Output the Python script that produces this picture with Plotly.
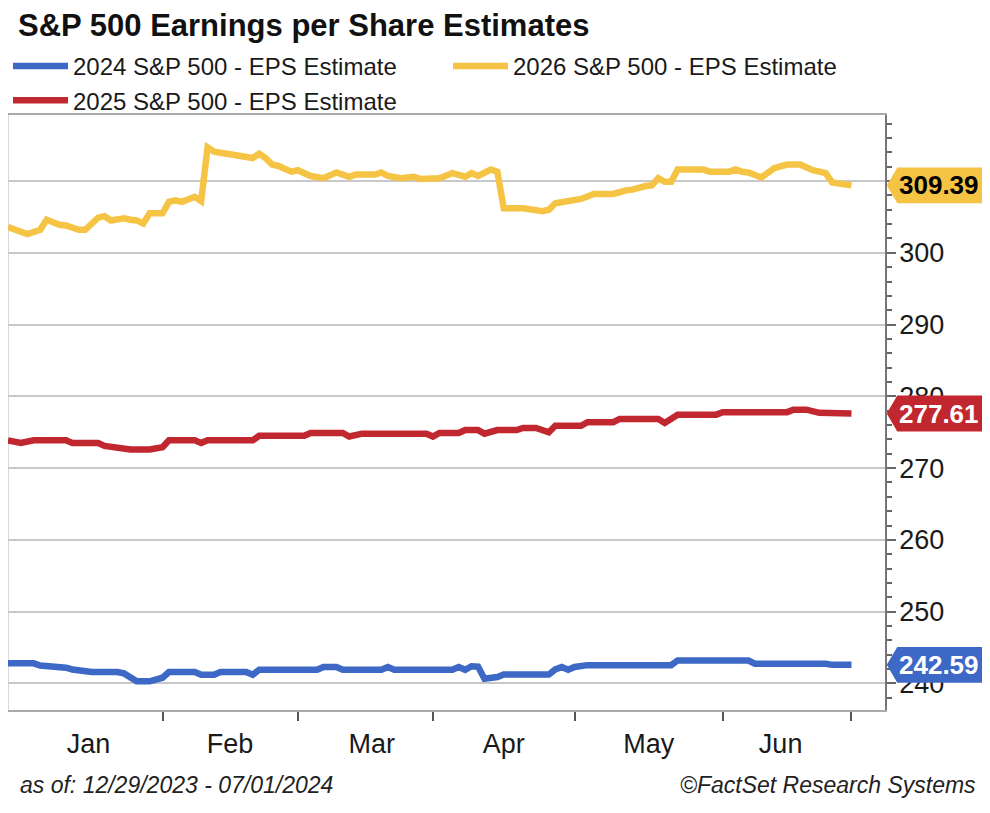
import plotly.graph_objects as go

# 2026 S&P 500 EPS estimate (yellow)
dates_2026 = ["2023-12-29", "2024-01-03", "2024-01-05", "2024-01-08", "2024-01-10", "2024-01-11",
              "2024-01-15", "2024-01-16", "2024-01-18", "2024-01-19", "2024-01-22", "2024-01-24",
              "2024-01-25", "2024-01-26", "2024-01-29", "2024-01-30", "2024-02-01", "2024-02-02",
              "2024-02-05", "2024-02-06", "2024-02-08", "2024-02-09", "2024-02-12", "2024-02-13",
              "2024-02-15", "2024-02-20", "2024-02-21", "2024-02-22", "2024-02-23", "2024-02-26",
              "2024-02-27", "2024-02-29", "2024-03-01", "2024-03-05", "2024-03-07", "2024-03-11",
              "2024-03-13", "2024-03-14", "2024-03-19", "2024-03-20", "2024-03-21", "2024-03-25",
              "2024-03-27", "2024-03-28", "2024-04-02", "2024-04-04", "2024-04-05", "2024-04-08",
              "2024-04-09", "2024-04-10", "2024-04-12", "2024-04-15", "2024-04-16", "2024-04-19",
              "2024-04-24", "2024-04-25", "2024-04-26", "2024-04-30", "2024-05-01", "2024-05-02",
              "2024-05-06", "2024-05-09", "2024-05-13", "2024-05-14", "2024-05-16", "2024-05-17",
              "2024-05-20", "2024-05-21", "2024-05-22", "2024-05-23", "2024-05-29", "2024-05-30",
              "2024-06-04", "2024-06-05", "2024-06-06", "2024-06-07", "2024-06-11", "2024-06-13",
              "2024-06-17", "2024-06-19", "2024-06-21", "2024-06-25", "2024-06-26", "2024-06-28",
              "2024-07-01"]
eps_2026 = [303.6, 302.6, 303.2, 304.6, 303.9, 303.8,
            303.2, 303.2, 304.9, 305.1, 304.5, 304.8,
            304.6, 304.5, 304.1, 305.5, 305.5, 307.1,
            307.3, 307.1, 307.8, 307.2, 314.7, 314.1,
            313.8, 313.5, 313.2, 313.8, 313.2, 312.3,
            312.1, 311.3, 311.5, 310.7, 310.4, 311.2,
            310.6, 310.9, 310.9, 311.2, 310.7, 310.4,
            310.6, 310.3, 310.4, 311.1, 310.9, 310.6,
            311.1, 310.7, 311.6, 311.3, 306.2, 306.2,
            305.8, 306.0, 306.9, 307.2, 307.5, 307.5,
            308.2, 308.2, 308.7, 308.8, 309.3, 309.4,
            310.4, 309.9, 309.9, 311.6, 311.6, 311.3,
            311.3, 311.6, 311.3, 311.2, 310.5, 311.8,
            312.3, 312.3, 311.5, 311.1, 309.8, 309.4,
            309.39]

# 2025 S&P 500 EPS estimate (red)
dates_2025 = ["2023-12-29", "2024-01-02", "2024-01-04", "2024-01-11", "2024-01-12", "2024-01-18",
              "2024-01-19", "2024-01-22", "2024-01-24", "2024-01-25", "2024-01-30", "2024-02-01",
              "2024-02-02", "2024-02-08", "2024-02-09", "2024-02-12", "2024-02-21", "2024-02-22",
              "2024-03-04", "2024-03-05", "2024-03-12", "2024-03-13", "2024-03-15", "2024-03-29",
              "2024-04-01", "2024-04-02", "2024-04-05", "2024-04-08", "2024-04-10", "2024-04-11",
              "2024-04-15", "2024-04-18", "2024-04-19", "2024-04-23", "2024-04-25", "2024-04-26",
              "2024-05-02", "2024-05-03", "2024-05-09", "2024-05-10", "2024-05-20", "2024-05-21",
              "2024-05-23", "2024-05-31", "2024-06-03", "2024-06-17", "2024-06-18", "2024-06-20",
              "2024-06-24", "2024-07-01"]
eps_2025 = [273.87, 273.5, 273.87, 273.87, 273.5, 273.5,
            273.1, 273.0, 272.8, 272.6, 272.6, 272.9,
            273.87, 273.87, 273.5, 273.87, 273.87, 274.5,
            274.5, 274.9, 274.9, 274.4, 274.8, 274.8,
            274.4, 274.9, 274.9, 275.3, 275.3, 274.8,
            275.3, 275.3, 275.6, 275.6, 275.0, 275.9,
            275.9, 276.4, 276.4, 276.85, 276.85, 276.3,
            277.45, 277.45, 277.8, 277.8, 278.15, 278.15,
            277.7, 277.61]

# 2024 S&P 500 EPS estimate (blue)
dates_2024 = ["2023-12-29", "2024-01-04", "2024-01-05", "2024-01-09", "2024-01-10", "2024-01-11",
              "2024-01-12", "2024-01-15", "2024-01-17", "2024-01-23", "2024-01-24", "2024-01-26",
              "2024-01-30", "2024-02-01", "2024-02-02", "2024-02-08", "2024-02-09", "2024-02-13",
              "2024-02-14", "2024-02-20", "2024-02-21", "2024-02-22", "2024-03-06", "2024-03-07",
              "2024-03-11", "2024-03-12", "2024-03-20", "2024-03-21", "2024-03-22", "2024-04-04",
              "2024-04-05", "2024-04-08", "2024-04-09", "2024-04-10", "2024-04-11", "2024-04-15",
              "2024-04-16", "2024-04-25", "2024-04-26", "2024-04-29", "2024-04-30", "2024-05-01",
              "2024-05-02", "2024-05-03", "2024-05-22", "2024-05-23", "2024-06-07", "2024-06-10",
              "2024-06-25", "2024-06-26", "2024-07-01"]
eps_2024 = [242.8, 242.8, 242.5, 242.4, 242.2, 242.2,
            241.95, 241.8, 241.6, 241.6, 241.4, 240.3,
            240.3, 240.8, 241.6, 241.6, 241.2, 241.2,
            241.6, 241.6, 241.2, 241.9, 241.9, 242.3,
            242.3, 241.9, 241.9, 242.3, 241.9, 241.9,
            242.3, 241.9, 242.4, 242.35, 240.65, 240.9,
            241.25, 241.25, 241.95, 242.3, 241.9, 242.3,
            242.35, 242.55, 242.55, 243.2, 243.2, 242.75,
            242.75, 242.59, 242.59]

blue = "#3D68C6"
red = "#C1272F"
yellow = "#F6C445"

series = [
    ("2024 S&P 500 - EPS Estimate", dates_2024, eps_2024, blue, "white"),
    ("2026 S&P 500 - EPS Estimate", dates_2026, eps_2026, yellow, "black"),
    ("2025 S&P 500 - EPS Estimate", dates_2025, eps_2025, red, "white"),
]

FONT = "Liberation Sans, Arial"
W, H = 982, 805  # page adds an 8px body margin

fig = go.Figure()
for name, xs, ys, col, _ in series:
    fig.add_trace(go.Scatter(x=xs, y=ys, mode="lines", name=name,
                             line=dict(color=col, width=6.5, shape="linear")))

# value tags on the right axis
shapes = []
annotations = []
h = 2.5
for name, xs, ys, col, txtcol in series:
    v = ys[-1]
    shapes.append(dict(
        type="path", xref="paper", yref="y", layer="above",
        path=f"M 1.002,{v} L 1.014,{v + h} L 1.114,{v + h} L 1.114,{v - h} L 1.014,{v - h} Z",
        fillcolor=col, line=dict(width=0),
    ))
    annotations.append(dict(
        xref="paper", yref="y", x=1.062, y=v, text=f"<b>{v:.2f}</b>", showarrow=False,
        font=dict(size=26, color=txtcol, family=FONT),
        xanchor="center", yanchor="middle",
    ))

# left border of the plot
shapes.append(dict(type="line", xref="paper", yref="paper", x0=0, x1=0, y0=0, y1=1,
                   line=dict(color="#cccccc", width=1.5), layer="below"))

annotations.append(dict(xref="paper", yref="paper", x=0.011, y=-0.126,
                        text="<i>as of: 12/29/2023 - 07/01/2024</i>", showarrow=False,
                        xanchor="left", yanchor="middle",
                        font=dict(size=23, color="#222222", family=FONT)))
annotations.append(dict(xref="paper", yref="paper", x=1.106, y=-0.126,
                        text="<i>©FactSet Research Systems</i>", showarrow=False,
                        xanchor="right", yanchor="middle",
                        font=dict(size=23, color="#222222", family=FONT)))

fig.update_layout(
    width=W, height=H,
    margin=dict(l=0, r=105, t=107, b=103, autoexpand=False),
    paper_bgcolor="white", plot_bgcolor="white",
    font=dict(family=FONT, color="#1a1a1a", size=24),
    title=dict(text="<b>S&P 500 Earnings per Share Estimates</b>", x=10 / W, xanchor="left",
               xref="container", y=1 - 6 / H, yanchor="top", yref="container",
               font=dict(size=31, color="#111111")),
    legend=dict(orientation="h", xref="container", yref="container", x=0.0, y=1 - 36 / H,
                xanchor="left", yanchor="top", entrywidth=370, entrywidthmode="pixels",
                font=dict(size=24, color="#1a1a1a"), tracegroupgap=0, itemwidth=55,
                bgcolor="rgba(0,0,0,0)"),
    shapes=shapes,
    annotations=annotations,
    showlegend=True,
)

fig.update_xaxes(
    type="date",
    range=["2023-12-29", "2024-07-08 05:00"],
    rangebreaks=[dict(bounds=["sat", "mon"])],
    dtick="M1", tick0="2024-01-01", tickformat="%b", ticklabelmode="period",
    ticks="outside", ticklen=9, tickwidth=1.5, tickcolor="#555555",
    showgrid=False, showline=True, linecolor="#aaaaaa", linewidth=1.5, mirror=True,
    tickfont=dict(size=27, color="#1a1a1a"), zeroline=False,
)
fig.update_yaxes(
    side="right", range=[236.3, 319.2],
    tickvals=[240, 250, 260, 270, 280, 290, 300, 310],
    ticks="outside", ticklen=9, tickwidth=1.5, tickcolor="#666666",
    ticklabelstandoff=-2,
    minor=dict(dtick=2, tick0=240, ticks="outside", ticklen=5, tickwidth=1.5, tickcolor="#666666",
               showgrid=False),
    showgrid=True, gridcolor="#c8c8c8", gridwidth=2,
    showline=True, linecolor="#777777", linewidth=1.5,
    tickfont=dict(size=27, color="#1a1a1a"), zeroline=False,
)

fig.write_html("out.html")
